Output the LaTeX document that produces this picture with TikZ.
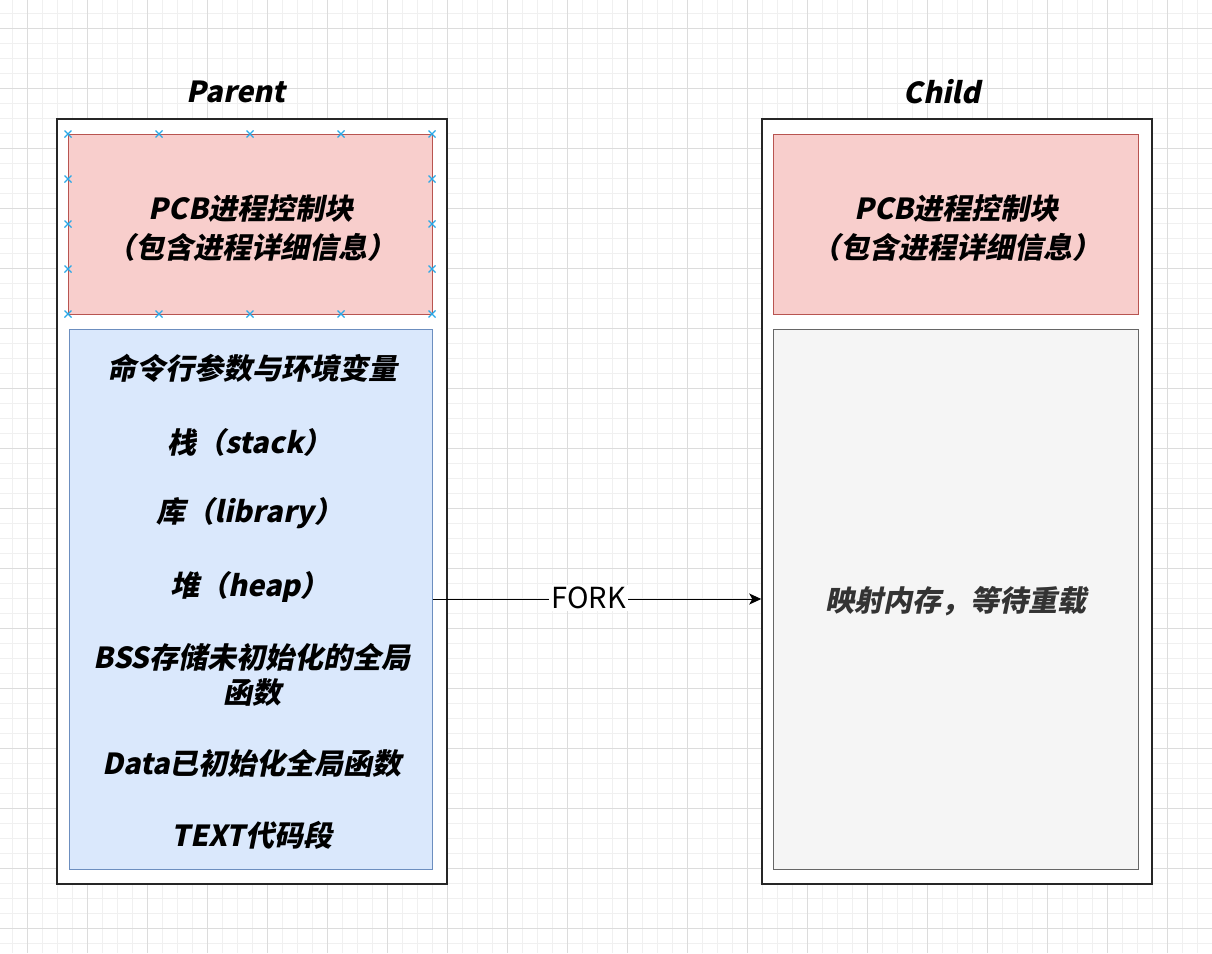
\documentclass[tikz,border=0pt]{standalone}
\usepackage{fontspec}
\newfontfamily\cjkbi{Noto Sans CJK SC}[FakeSlant=0.2,BoldFeatures={FakeSlant=0.2}]
\newfontfamily\cjkr{Noto Sans CJK SC}
\usetikzlibrary{arrows.meta}
\definecolor{redfill}{HTML}{F8CECC}
\definecolor{redline}{HTML}{B85450}
\definecolor{bluefill}{HTML}{DAE8FC}
\definecolor{blueline}{HTML}{6C8EBF}
\definecolor{greyfill}{HTML}{F5F5F5}
\definecolor{greyline}{HTML}{666666}
\definecolor{greytext}{HTML}{333333}
\definecolor{gridminor}{HTML}{F0F0F0}
\definecolor{gridmajor}{HTML}{DCDCDC}
\definecolor{selblue}{HTML}{29A9E8}
\tikzset{
  outerbox/.style={draw=black!85,line width=1.5pt,fill=white,inner sep=0pt},
  pcbbox/.style={draw=redline,line width=1pt,fill=redfill,inner sep=0pt},
  pcbtext/.style={inner sep=0pt,align=center,font=\cjkbi\bfseries\fontsize{29}{39}\selectfont},
  membox/.style={draw=blueline,line width=1pt,fill=bluefill,inner sep=0pt},
  mapbox/.style={draw=greyline,line width=1pt,fill=greyfill,inner sep=0pt},
  maptext/.style={inner sep=0pt,align=center,text=greytext,font=\cjkbi\bfseries\fontsize{29}{35}\selectfont},
  memtext/.style={inner sep=0pt,align=center,font=\cjkbi\bfseries\fontsize{29}{35}\selectfont},
  titletext/.style={inner sep=0pt,font=\cjkbi\bfseries\fontsize{29}{35}\selectfont},
  forklabel/.style={fill=white,inner sep=2pt,font=\cjkr\fontsize{29}{35}\selectfont},
  selmark/.style={draw=selblue,line width=1.1pt},
}
\begin{document}
\begin{tikzpicture}[x=1pt,y=-1pt]
\useasboundingbox (0,0) rectangle (1212,953);
\fill[white] (0,0) rectangle (1212,953);
% grid
\foreach \x in {12.5,27.5,...,1212} \draw[gridminor,line width=1pt] (\x,0) -- (\x,953);
\foreach \y in {13,28,...,953} \draw[gridminor,line width=1pt] (0,\y) -- (1212,\y);
\foreach \x in {27.5,87.5,...,1212} \draw[gridmajor,line width=1pt] (\x,0) -- (\x,953);
\foreach \y in {28,88,...,953} \draw[gridmajor,line width=1pt] (0,\y) -- (1212,\y);

% titles
\node[titletext] (ptitle) at (236,92) {Parent};
\node[titletext] (ctitle) at (942,92) {Child};

% parent
\node[outerbox,minimum width=390pt,minimum height=765pt] (pouter) at (252,501.5) {};
\node[pcbbox,minimum width=364pt,minimum height=180pt] (ppcb) at (250,224) {};
\node[pcbtext] (ppcbt) at (251,228) {PCB进程控制块\\（包含进程详细信息）};
\node[membox,minimum width=363pt,minimum height=540pt] (pmem) at (250.5,599) {};
\node[memtext] (t1) at (252,368) {命令行参数与环境变量};
\node[memtext] (t2) at (250,442) {栈（stack）};
\node[memtext] (t3) at (250,513) {库（library）};
\node[memtext] (t4) at (250,587) {堆（heap）};
\node[memtext] (t5) at (252,675) {BSS存储未初始化的全局\\函数};
\node[memtext] (t6) at (252,763) {Data已初始化全局函数};
\node[memtext] (t7) at (252,835) {TEXT代码段};

% selection markers on parent PCB
\foreach \px in {68,159,250,341,432} {
  \foreach \py in {134,314} {
    \draw[selmark] (\px-3.5,\py-3.5) -- (\px+3.5,\py+3.5) (\px-3.5,\py+3.5) -- (\px+3.5,\py-3.5);
  }
}
\foreach \py in {179,224,269} {
  \foreach \px in {68,432} {
    \draw[selmark] (\px-3.5,\py-3.5) -- (\px+3.5,\py+3.5) (\px-3.5,\py+3.5) -- (\px+3.5,\py-3.5);
  }
}

% child
\node[outerbox,minimum width=390pt,minimum height=765pt] (couter) at (957,501.5) {};
\node[pcbbox,minimum width=365pt,minimum height=180pt] (cpcb) at (955.5,224) {};
\node[pcbtext] (cpcbt) at (956.5,228) {PCB进程控制块\\（包含进程详细信息）};
\node[mapbox,minimum width=365pt,minimum height=540pt] (cmap) at (955.5,599) {};
\node[maptext] (cmapt) at (955.5,601) {映射内存，等待重载};

% fork arrow
\draw[line width=1pt,-{Stealth[length=12pt,width=11pt,inset=3pt]}] (pmem.east) -- node[forklabel,pos=0.475,yshift=1pt] (fork) {FORK} (couter.west |- pmem.east);
\end{tikzpicture}
\end{document}
